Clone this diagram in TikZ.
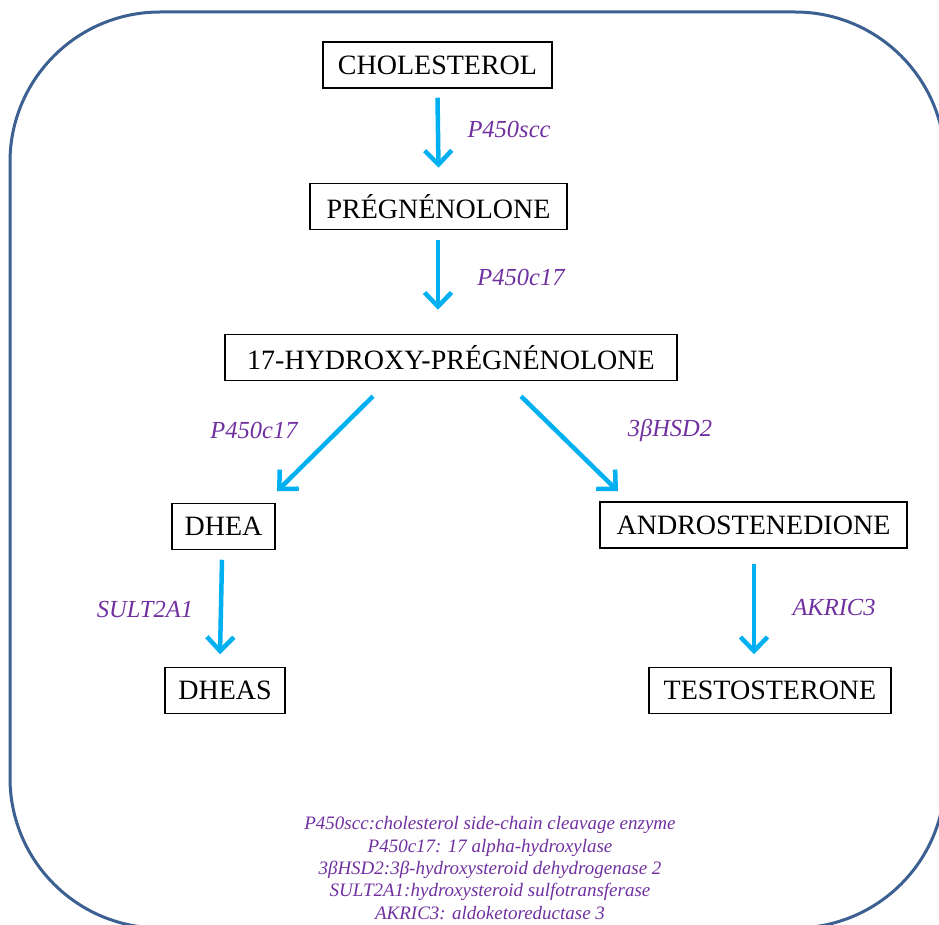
\documentclass[tikz,border=0pt]{standalone}
\usepackage{fontspec}
\setmainfont{Liberation Serif}
\usetikzlibrary{arrows.meta}
\definecolor{frameblue}{RGB}{59,96,145}
\definecolor{arrcyan}{RGB}{0,176,240}
\definecolor{enzpurple}{RGB}{112,48,160}
\begin{document}
\begin{tikzpicture}[x=1pt,y=-1pt,
  box/.style={draw=black,line width=1.5pt,minimum height=46pt,inner sep=0pt,font=\fontsize{28}{32}\selectfont},
  enz/.style={text=enzpurple,font=\fontsize{24.5}{28}\selectfont\itshape,inner sep=0pt},
  arr/.style={draw=arrcyan,line width=4.5pt,-{Straight Barb[length=14pt,width=27pt]}},
  legend/.style={text=enzpurple,font=\fontsize{19}{22.3}\selectfont\itshape,align=center,inner sep=0pt}]
\useasboundingbox (0,0) rectangle (939,925);
\clip (0,0) rectangle (939,925);
\draw[frameblue,line width=3pt,rounded corners=150pt] (10,12) rectangle (945,928);

\node[box,minimum width=229pt] (chol) at (437.5,65) {CHOLESTEROL};
\node[box,minimum width=257pt] (preg) at (438.5,206.5) {PRÉGNÉNOLONE};
\node[box,minimum width=452pt] (oh) at (451,357.5) {17-HYDROXY-PRÉGNÉNOLONE};
\node[box,minimum width=103pt] (dhea) at (223.5,526.5) {DHEA};
\node[box,minimum width=307pt] (andro) at (753.5,525) {ANDROSTENEDIONE};
\node[box,minimum width=120pt] (dheas) at (225,690.5) {DHEAS};
\node[box,minimum width=242pt] (testo) at (770,690.5) {TESTOSTERONE};

\draw[arr] ([yshift=-9pt]chol.south) -- ([yshift=15pt]preg.north);
\draw[arr] ([xshift=-0.5pt,yshift=-10pt]preg.south) -- ([xshift=-13pt,yshift=24pt]oh.north);
\draw[arr] ([xshift=-78pt,yshift=-15pt]oh.south) -- ([xshift=53.5pt,yshift=11.5pt]dhea.north);
\draw[arr] ([xshift=70pt,yshift=-15pt]oh.south) -- ([xshift=-135.5pt,yshift=10pt]andro.north);
\draw[arr] ([xshift=-1.5pt,yshift=-9.5pt]dhea.south) -- ([xshift=-5pt,yshift=12.5pt]dheas.north);
\draw[arr] ([xshift=0.5pt,yshift=-15pt]andro.south) -- ([xshift=-16pt,yshift=12.5pt]testo.north);

\node[enz] (e1) at (509,129) {P450scc};
\node[enz] (e2) at (521,277) {P450c17};
\node[enz] (e3) at (254,430) {P450c17};
\node[enz] (e4) at (670,430) {3βHSD2};
\node[enz] (e5) at (145,610) {SULT2A1};
\node[enz] (e6) at (834,608) {AKRIC3};

\node[legend] (leg) at (490,868) {P450scc:cholesterol side-chain cleavage enzyme\\
P450c17: 17 alpha-hydroxylase\\
3βHSD2:3β-hydroxysteroid dehydrogenase 2\\
SULT2A1:hydroxysteroid sulfotransferase\\
AKRIC3: aldoketoreductase 3};
\end{tikzpicture}
\end{document}
